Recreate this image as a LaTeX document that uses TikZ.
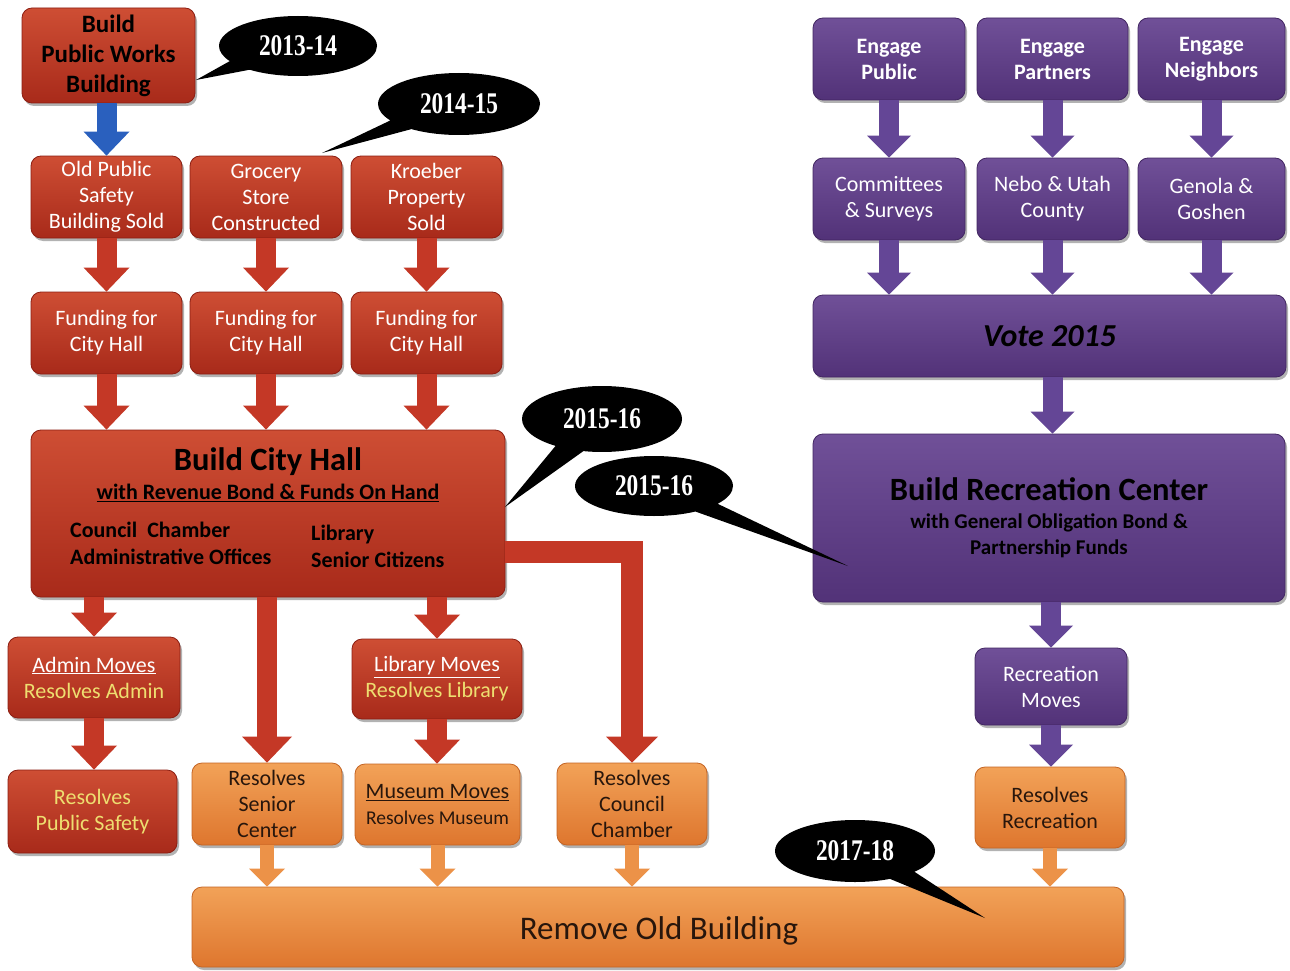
\documentclass[tikz,border=0pt]{standalone}
\usepackage{fontspec}
\setmainfont{Carlito}
\newfontfamily\yearfont[FakeStretch=0.78]{Liberation Serif}
\usetikzlibrary{arrows.meta,shapes.callouts,shadows,calc}
\newcommand\myfs[2]{\fontsize{#1}{#2}\selectfont}
\definecolor{redT}{RGB}{206,78,52}
\definecolor{redB}{RGB}{168,42,26}
\definecolor{redD}{RGB}{140,30,18}
\definecolor{redA}{RGB}{196,56,38}
\definecolor{orT}{RGB}{242,162,88}
\definecolor{orB}{RGB}{222,118,46}
\definecolor{orD}{RGB}{196,100,36}
\definecolor{orA}{RGB}{236,146,72}
\definecolor{puT}{RGB}{112,80,152}
\definecolor{puB}{RGB}{82,50,120}
\definecolor{puD}{RGB}{66,38,98}
\definecolor{puA}{RGB}{100,70,150}
\definecolor{blA}{RGB}{42,96,190}
\definecolor{yel}{RGB}{238,222,112}
\definecolor{dark}{RGB}{40,22,12}
\tikzset{
  sz/.style 2 args={minimum width=#1pt, minimum height=#2pt},
  basebox/.style={rectangle, rounded corners=10pt, line width=0.8pt, align=center, inner sep=2pt,
    drop shadow={shadow xshift=2pt, shadow yshift=-3pt, opacity=0.3, fill=black},
    font=\myfs{22}{26}},
  redbox/.style={basebox, draw=redD, top color=redT, bottom color=redB, text=white},
  orbox/.style={basebox, draw=orD, top color=orT, bottom color=orB, text=dark},
  pubox/.style={basebox, draw=puD, top color=puT, bottom color=puB, text=white},
  rarr/.style={draw=redA, line width=20pt, line join=miter, -{Triangle[width=46pt,length=24pt,line width=0pt]}},
  barr/.style={draw=blA, line width=20pt, -{Triangle[width=46pt,length=24pt,line width=0pt]}},
  oarr/.style={draw=orA, line width=14pt, -{Triangle[width=36pt,length=18pt,line width=0pt]}},
  parr/.style={draw=puA, line width=20pt, -{Triangle[width=44pt,length=22pt,line width=0pt]}},
  yearcall/.style={ellipse callout, fill=black, text=white, inner sep=0pt, callout pointer arc=22,
    font=\yearfont\myfs{30}{32}\bfseries},
  lbl/.style={inner sep=0pt}
}
\begin{document}
\begin{tikzpicture}[x=1pt,y=-1pt]
\path[use as bounding box, fill=white] (0,0) rectangle (1290,971);

% ---------- red column ----------
\node[redbox, sz={173}{95}, text=black, font=\myfs{25}{30}\bfseries] (pw) at (108.5,55.5) {Build\\Public Works\\Building};
\node[redbox, sz={151}{82}] (ops) at (106.5,197) {Old Public\\Safety\\Building Sold};
\node[redbox, sz={152}{82}] (gro) at (266,197) {Grocery\\Store\\Constructed};
\node[redbox, sz={151}{82}] (kro) at (426.5,197) {Kroeber\\Property\\Sold};
\node[redbox, sz={151}{82}] (f1) at (106.5,333) {Funding for\\City Hall};
\node[redbox, sz={152}{82}] (f2) at (266,333) {Funding for\\City Hall};
\node[redbox, sz={151}{82}] (f3) at (426.5,333) {Funding for\\City Hall};
\node[redbox, sz={474}{167}] (ch) at (268,513.5) {};
\node[lbl, font=\myfs{32.5}{36}\bfseries] (chT) at (268,462) {Build City Hall};
\node[lbl, font=\myfs{22}{26}\bfseries] (chS) at (268,493) {\underline{with Revenue Bond \& Funds On Hand}};
\node[lbl, anchor=west, align=left, font=\myfs{22}{27}\bfseries] (chA) at (70,543) {Council\ \ Chamber\\Administrative Offices};
\node[lbl, anchor=west, align=left, font=\myfs{22}{27}\bfseries] (chB) at (311,546) {Library\\Senior Citizens};
\node[redbox, sz={172}{81}] (adm) at (94,677.5) {\underline{Admin Moves}\\\textcolor{yel}{Resolves Admin}};
\node[redbox, sz={170}{80}] (lib) at (437,679) {\underline{Library Moves}\\\textcolor{yel}{Resolves Library}};
\node[redbox, sz={169}{83}, text=yel] (rps) at (92.5,811.5) {Resolves\\Public Safety};

% ---------- orange ----------
\node[orbox, sz={150}{82}] (rsc) at (267,804) {Resolves\\Senior\\Center};
\node[orbox, sz={165}{81}] (mus) at (437.5,804.5) {\underline{Museum Moves}\\{\myfs{19.5}{24}Resolves Museum}};
\node[orbox, sz={150}{82}] (rcc) at (632,804) {Resolves\\Council\\Chamber};
\node[orbox, sz={150}{81}] (rrc) at (1050,807.5) {Resolves\\Recreation};
\node[orbox, sz={932}{80}] (rob) at (658,927) {};
\node[lbl, text=dark, font=\myfs{33}{36}] (robT) at (659,931) {Remove Old Building};

% ---------- purple ----------
\node[pubox, sz={152}{82}, font=\myfs{22}{26}\bfseries] (ep) at (889,59) {Engage\\Public};
\node[pubox, sz={151}{82}, font=\myfs{22}{26}\bfseries] (epa) at (1052.5,59) {Engage\\Partners};
\node[pubox, sz={147}{82}, font=\myfs{22}{26}\bfseries] (en) at (1211.5,59) {Engage\\Neighbors};
\node[pubox, sz={152}{82}] (cs) at (889,199) {Committees\\\& Surveys};
\node[pubox, sz={151}{82}] (nebo) at (1052.5,199) {Nebo \& Utah\\County};
\node[pubox, sz={147}{82}] (gen) at (1211.5,199) {Genola \&\\Goshen};
\node[pubox, sz={473}{82}, text=black, font=\myfs{32}{36}\bfseries\itshape] (vote) at (1049.5,336) {Vote 2015};
\node[pubox, sz={472}{168}, text=black] (brc) at (1049,518) {{\myfs{32.5}{36}\bfseries Build Recreation Center}\\[2pt]{\myfs{21}{26}\bfseries with General Obligation Bond \&}\\{\myfs{21}{26}\bfseries Partnership Funds}};
\node[pubox, sz={152}{77}] (rm) at (1051,686.5) {Recreation\\Moves};

% ---------- arrows ----------
\draw[barr] (pw.south -| ops.north) -- (ops.north);
\draw[rarr] (ops.south) -- (f1.north);
\draw[rarr] (gro.south) -- (f2.north);
\draw[rarr] (kro.south) -- (f3.north);
\draw[rarr] (f1.south) -- (f1.south |- ch.north);
\draw[rarr] (f2.south) -- (f2.south |- ch.north);
\draw[rarr] (f3.south) -- (f3.south |- ch.north);
\draw[rarr] (adm.north |- ch.south) -- (adm.north);
\draw[rarr, -{Triangle[width=50pt,length=26pt,line width=0pt]}] (rsc.north |- ch.south) -- (rsc.north);
\draw[rarr] (lib.north |- ch.south) -- (lib.north);
\draw[rarr, line width=22pt, -{Triangle[width=52pt,length=26pt,line width=0pt]}] ([yshift=-38pt]ch.east) -| (rcc.north);
\draw[rarr] (adm.south) -- (adm.south |- rps.north);
\draw[rarr] (lib.south) -- (lib.south |- mus.north);
\draw[oarr] (rsc.south) -- (rsc.south |- rob.north);
\draw[oarr] (mus.south) -- (mus.south |- rob.north);
\draw[oarr] (rcc.south) -- (rcc.south |- rob.north);
\draw[oarr] (rrc.south) -- (rrc.south |- rob.north);
\draw[parr] (ep.south) -- (cs.north);
\draw[parr] (epa.south) -- (nebo.north);
\draw[parr] (en.south) -- (gen.north);
\draw[parr] (cs.south) -- (cs.south |- vote.north);
\draw[parr] (nebo.south) -- (nebo.south |- vote.north);
\draw[parr] (gen.south) -- (gen.south |- vote.north);
\draw[parr] (nebo.south |- vote.south) -- (nebo.south |- brc.north);
\draw[parr] (rm.north |- brc.south) -- (rm.north);
\draw[parr] (rm.south) -- (rm.south |- rrc.north);

% ---------- year callouts ----------
\coordinate (t1) at (196,80);
\coordinate (t2) at (322,153);
\coordinate (t3) at (505,507);
\coordinate (t4) at (848,566);
\coordinate (t5) at (985,918);
\node[yearcall, sz={158}{60}, callout absolute pointer={(t1)}] (y1) at (298,46) {2013-14};
\node[yearcall, sz={162}{62}, callout absolute pointer={(t2)}] (y2) at (459,104) {2014-15};
\node[yearcall, sz={160}{66}, callout absolute pointer={(t3)}] (y3) at (602,419) {2015-16};
\node[yearcall, sz={158}{60}, callout absolute pointer={(t4)}] (y4) at (654,486) {2015-16};
\node[yearcall, sz={160}{62}, callout absolute pointer={(t5)}] (y5) at (855,851) {2017-18};
\end{tikzpicture}
\end{document}
